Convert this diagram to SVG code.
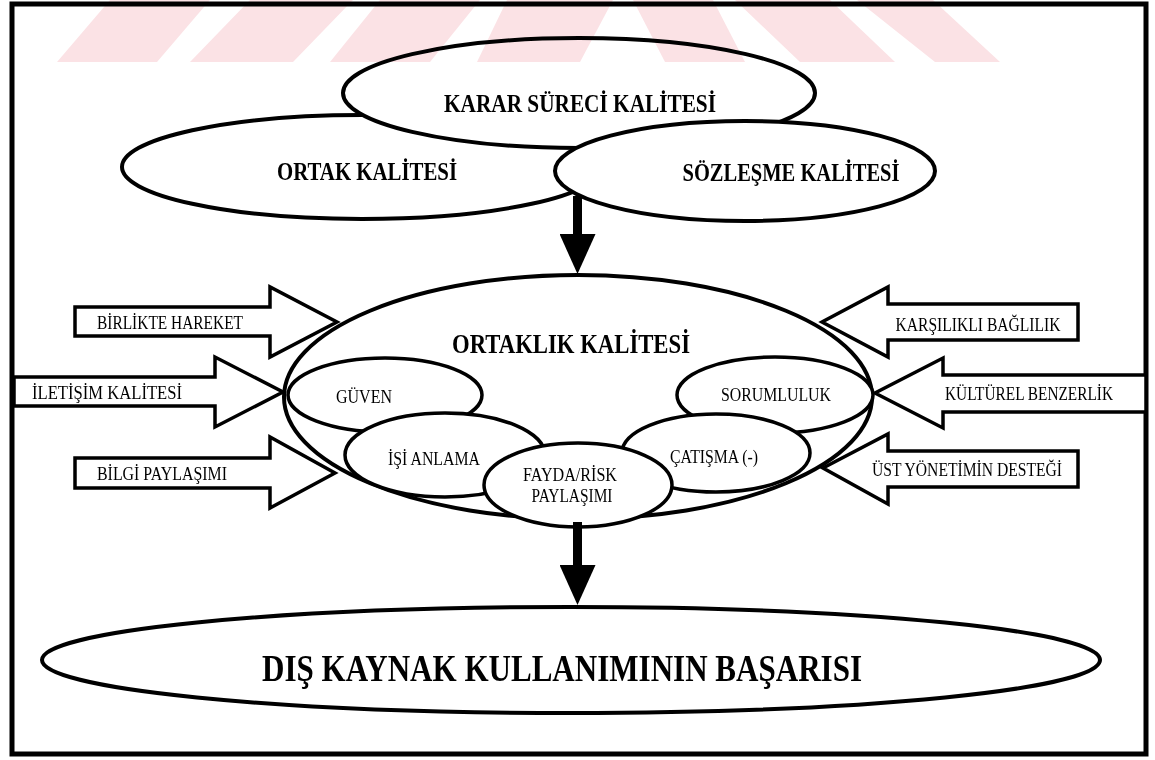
<svg xmlns="http://www.w3.org/2000/svg" width="1155" height="760" viewBox="0 0 1155 760">
<style>
.bg{fill:#ffffff}
.frame{fill:none;stroke:#000;stroke-width:5}
.el{fill:#fff;stroke:#000;stroke-width:4}
.iel{fill:#fff;stroke:#000;stroke-width:3.5}
.blk{fill:#fff;stroke:#000;stroke-width:3.5;stroke-linejoin:miter}
.tb{font-family:"Liberation Serif","Times New Roman",serif;font-weight:bold;fill:#000;text-anchor:middle}
.tr{font-family:"Liberation Serif","Times New Roman",serif;font-weight:normal;fill:#000;text-anchor:middle;font-size:19px}
.conn{stroke:#000;stroke-width:9;fill:none}
.wm{fill:#fbe2e5;mix-blend-mode:multiply}
</style>
<defs>
<marker id="ah" markerUnits="userSpaceOnUse" markerWidth="40" markerHeight="36" viewBox="0 0 40 36" refX="0" refY="18" orient="auto">
<path d="M0,0 L40,18 L0,36 z" fill="#000"/>
</marker>
</defs>
<rect class="bg" x="0" y="0" width="1155" height="760"/>
<rect class="frame" x="12" y="4" width="1134" height="750"/>

<g id="node-ortak">
<ellipse class="el" cx="362" cy="167" rx="240" ry="52"/>
<text class="tb" x="367" y="180" font-size="25" textLength="180" lengthAdjust="spacingAndGlyphs">ORTAK KALİTESİ</text>
</g>
<g id="node-karar">
<ellipse class="el" cx="579" cy="93" rx="236" ry="55"/>
<text class="tb" x="580" y="112" font-size="25" textLength="272" lengthAdjust="spacingAndGlyphs">KARAR SÜRECİ KALİTESİ</text>
</g>
<g id="node-sozlesme">
<ellipse class="el" cx="745" cy="171" rx="190" ry="50"/>
<text class="tb" x="791" y="181" font-size="25" textLength="217" lengthAdjust="spacingAndGlyphs">SÖZLEŞME KALİTESİ</text>
</g>

<g id="node-ortaklik">
<ellipse class="el" cx="578" cy="397" rx="294" ry="122"/>
<text class="tb" x="571" y="353" font-size="28" textLength="238" lengthAdjust="spacingAndGlyphs">ORTAKLIK KALİTESİ</text>
</g>
<g id="node-guven">
<ellipse class="iel" cx="385" cy="395" rx="97" ry="37"/>
<text class="tr" x="364" y="403" textLength="56" lengthAdjust="spacingAndGlyphs">GÜVEN</text>
</g>
<g id="node-sorumluluk">
<ellipse class="iel" cx="775" cy="395" rx="98" ry="38"/>
<text class="tr" x="776" y="401" textLength="110" lengthAdjust="spacingAndGlyphs">SORUMLULUK</text>
</g>
<g id="node-isi-anlama">
<ellipse class="iel" cx="445" cy="455" rx="100" ry="42"/>
<text class="tr" x="434" y="465" textLength="92" lengthAdjust="spacingAndGlyphs">İŞİ ANLAMA</text>
</g>
<g id="node-catisma">
<ellipse class="iel" cx="716" cy="453" rx="94" ry="39"/>
<text class="tr" x="714" y="463" textLength="88" lengthAdjust="spacingAndGlyphs">ÇATIŞMA (-)</text>
</g>
<g id="node-fayda">
<ellipse class="iel" cx="578" cy="485" rx="94" ry="42"/>
<text class="tr" x="570" y="481" textLength="94" lengthAdjust="spacingAndGlyphs">FAYDA/RİSK</text>
<text class="tr" x="572" y="502" textLength="81" lengthAdjust="spacingAndGlyphs">PAYLAŞIMI</text>
</g>

<g id="node-birlikte">
<polygon class="blk" points="75,307 270,307 270,287 337,322 270,357 270,336 75,336"/>
<text class="tr" x="170" y="329" textLength="146" lengthAdjust="spacingAndGlyphs">BİRLİKTE HAREKET</text>
</g>
<g id="node-iletisim">
<polygon class="blk" points="14,377 215,377 215,357 283,392 215,427 215,406 14,406"/>
<text class="tr" x="107" y="399" textLength="150" lengthAdjust="spacingAndGlyphs">İLETİŞİM KALİTESİ</text>
</g>
<g id="node-bilgi">
<polygon class="blk" points="75,458 270,458 270,437 335,473 270,508 270,488 75,488"/>
<text class="tr" x="162" y="480" textLength="130" lengthAdjust="spacingAndGlyphs">BİLGİ PAYLAŞIMI</text>
</g>
<g id="node-karsilikli">
<polygon class="blk" points="1078,304 888,304 888,287 822,322 888,357 888,340 1078,340"/>
<text class="tr" x="978" y="331" textLength="165" lengthAdjust="spacingAndGlyphs">KARŞILIKLI BAĞLILIK</text>
</g>
<g id="node-kulturel">
<polygon class="blk" points="1146,375 943,375 943,358 875,393 943,428 943,412 1146,412"/>
<text class="tr" x="1029" y="400" textLength="168" lengthAdjust="spacingAndGlyphs">KÜLTÜREL BENZERLİK</text>
</g>
<g id="node-ust">
<polygon class="blk" points="1078,451 888,451 888,434 823,468 888,504 888,487 1078,487"/>
<text class="tr" x="967" y="476" textLength="190" lengthAdjust="spacingAndGlyphs">ÜST YÖNETİMİN DESTEĞİ</text>
</g>

<g id="node-dis">
<ellipse class="el" cx="571" cy="660" rx="529" ry="53"/>
<text class="tb" x="562" y="681" font-size="38" textLength="600" lengthAdjust="spacingAndGlyphs">DIŞ KAYNAK KULLANIMININ BAŞARISI</text>
</g>

<g id="connectors">
<line class="conn" x1="577.5" y1="196" x2="577.5" y2="234" marker-end="url(#ah)"/>
<line class="conn" x1="577.5" y1="522" x2="577.5" y2="565" marker-end="url(#ah)"/>
</g>

<g id="watermark">
<polygon class="wm" points="110,0 210,0 157,62 57,62"/>
<polygon class="wm" points="250,0 353,0 293,62 190,62"/>
<polygon class="wm" points="380,0 480,0 430,62 330,62"/>
<polygon class="wm" points="507,0 613,0 580,62 477,62"/>
<polygon class="wm" points="633,0 713,0 745,62 665,62"/>
<polygon class="wm" points="735,0 830,0 895,62 800,62"/>
<polygon class="wm" points="857,0 933,0 1000,62 935,62"/>
</g>
</svg>
